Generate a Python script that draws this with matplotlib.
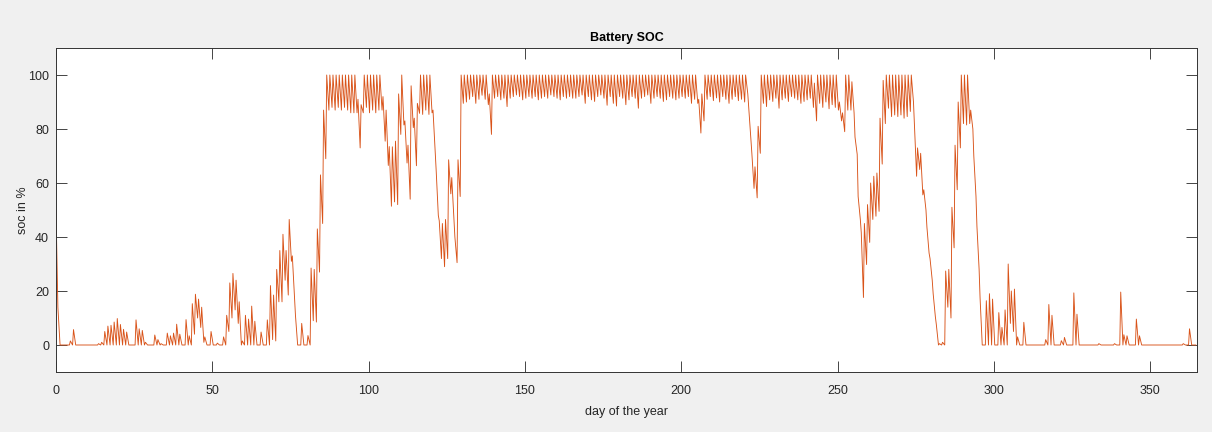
import numpy as np
import matplotlib
matplotlib.use("Agg")
import matplotlib.pyplot as plt

plt.rcParams['font.family'] = ['Liberation Sans', 'DejaVu Sans']

soc_start = 50

# SOC in the morning (daily low) for each day 0..364
soc_morning = [
    32, 0, 0, 0, 0, 0, 0, 0, 0, 0,
    0, 0, 0, 0, 0, 0, 0, 0, 0, 0,
    0, 0, 0, 0, 0, 0, 0, 0, 0, 0,
    0, 0, 0, 0, 0, 0, 0, 0, 0, 0,
    0, 0, 0, 0, 4, 10, 6.5, 1, 0, 0,
    0, 0, 0, 0, 0, 5, 10, 13, 8, 0,
    0, 0, 0, 0, 0, 0, 0, 0, 0, 2,
    1.5, 16, 16, 24, 18.5, 31, 18, 0, 0, 0,
    0, 0, 9, 8.5, 27, 45, 69, 87, 88, 87,
    88, 87, 88, 87, 86, 86, 86, 73, 86, 88,
    86, 87, 86, 87, 87, 75.5, 66.5, 51.4, 53, 52,
    78, 81.5, 67.4, 54, 80.5, 66.4, 85.8, 85.4, 87, 85.4,
    86, 72, 48, 32, 29, 32, 56, 46.5, 30.5, 55,
    89.5, 90, 91, 92, 89.5, 91, 92.5, 91, 89, 78,
    91.4, 92, 90.8, 91.4, 88.3, 91.4, 92, 92.6, 92, 90.8,
    91.4, 92, 91.4, 92, 90.8, 91.4, 92, 91.4, 92.6, 92,
    91.4, 90.8, 92, 91.4, 92, 91.4, 91.4, 92, 92.6, 89.5,
    92, 90.8, 90.2, 92, 92.6, 91.4, 88.8, 92, 89.5, 88.5,
    92, 91.4, 89, 90.8, 92, 91.4, 87.7, 91.4, 92, 92.6,
    89.5, 91.4, 92, 91.4, 90.2, 90.8, 92, 91.4, 90.8, 91.4,
    92, 91.4, 92, 89.5, 91, 89.5, 78.5, 83, 91, 92,
    90.5, 91.5, 90, 92, 91, 89.5, 91, 92, 90.5, 91,
    90, 93, 76, 58, 54.5, 71, 89.5, 88.3, 90.8, 90.2,
    91.4, 87.7, 90.8, 91.4, 90.2, 92, 91.4, 90.8, 89.5, 90.2,
    90.8, 91.4, 88, 83, 89.5, 88, 90, 87.5, 89, 88,
    87, 83, 79, 87, 87, 86, 70.6, 46.5, 17.6, 29.8,
    38, 46.5, 47.7, 49.5, 67, 82, 87.7, 84.6, 85.2, 84.6,
    85.2, 84, 84.6, 86.5, 90, 62.5, 65, 55.6, 50, 34,
    24, 10.5, 0, 0, 0, 14, 10, 36, 57.5, 73,
    82, 81.5, 82, 80, 55, 28, 0, 0, 0, 0,
    0, 0, 0, 0, 0, 8, 5, 0, 0, 0,
    0, 0, 0, 0, 0, 0, 0, 0, 0, 0,
    0, 0, 0, 0, 0, 0, 0, 0, 0, 0,
    0, 0, 0, 0, 0, 0, 0, 0, 0, 0,
    0, 0, 0, 0, 0, 0, 0, 0, 0, 0,
    0, 0, 0, 0, 0, 0, 0, 0, 0, 0,
    0, 0, 0, 0, 0,
]

# SOC in the afternoon (daily high) for each day 0..364
soc_afternoon = [
    14, 0, 0, 0, 1.5, 5.7, 0, 0, 0, 0,
    0, 0, 0, 0.5, 1, 5, 7, 7.3, 8.5, 9.8,
    7.6, 5.8, 4.8, 0, 0, 9.3, 6, 5.4, 1, 0,
    0, 3.7, 2, 0.5, 0, 4.4, 3.4, 4.4, 7.7, 4,
    0, 9.4, 3.4, 15.3, 18.8, 17, 14, 3, 0, 5,
    0, 0.7, 0, 3, 11, 23, 26.5, 24, 16, 1.5,
    11, 9.6, 14.4, 8.8, 0, 4.8, 0, 9.3, 22, 18.5,
    28, 35, 41, 35, 46.5, 33, 11, 0, 8, 0,
    3.5, 28.5, 28, 43, 63, 87, 100, 100, 100, 100,
    100, 100, 100, 100, 100, 100, 91, 89, 100, 100,
    100, 100, 100, 100, 92, 87, 73.5, 73.4, 75.5, 93,
    100, 83, 74, 96, 84, 89.5, 100, 100, 100, 100,
    87, 65, 46, 45, 46.5, 68.6, 62, 40, 68.6, 100,
    100, 100, 100, 100, 100, 100, 100, 100, 93, 100,
    100, 100, 100, 100, 100, 100, 100, 100, 100, 100,
    100, 100, 100, 100, 100, 100, 100, 100, 100, 100,
    100, 100, 100, 100, 100, 100, 100, 100, 100, 100,
    100, 100, 100, 100, 100, 100, 100, 100, 100, 100,
    100, 100, 100, 100, 100, 100, 100, 100, 100, 100,
    100, 100, 100, 100, 100, 100, 100, 100, 100, 100,
    100, 100, 100, 100, 100, 91, 93, 100, 100, 100,
    100, 100, 100, 100, 100, 100, 100, 100, 100, 100,
    100, 88, 71, 66, 81, 100, 100, 100, 100, 100,
    100, 100, 100, 100, 100, 100, 100, 100, 100, 100,
    100, 100, 97, 100, 100, 100, 100, 100, 100, 100,
    90, 86, 100, 100, 97.5, 77, 55, 41.6, 45, 52,
    60, 62.5, 63.7, 84, 98, 100, 100, 100, 100, 100,
    100, 100, 100, 100, 81.5, 73, 71, 57.5, 43.7, 32,
    19, 7.7, 0.5, 1, 27.4, 28, 51, 74, 90, 100,
    100, 100, 87, 70, 44, 17.6, 0, 16.4, 19, 17,
    0, 12, 6.5, 13, 30, 20, 20.7, 3, 0, 8.4,
    0, 0, 0, 0, 0, 0, 2, 15, 11, 0,
    0, 1.6, 2.8, 0, 0, 19.3, 11.4, 0, 0, 0,
    0, 0, 0, 0.5, 0, 0, 0, 0, 0.5, 0,
    19.6, 3.8, 3.4, 0, 0, 9.6, 3.4, 0, 0, 0,
    0, 0, 0, 0, 0, 0, 0, 0, 0, 0,
    0.5, 0, 6, 0, 0,
]

x_ticks = [0, 50, 100, 150, 200, 250, 300, 350]
y_ticks = [0, 20, 40, 60, 80, 100]

days = np.arange(len(soc_morning))
x = np.concatenate([[0.0], np.column_stack([days + 0.3, days + 0.6]).ravel()])
y = np.concatenate([[soc_start], np.column_stack([soc_morning, soc_afternoon]).ravel()])

fig = plt.figure(figsize=(12.12, 4.32), dpi=100, facecolor='#F0F0F0')
ax = fig.add_axes([56/1212, 60/432, (1197-56)/1212, (372-48)/432])
ax.set_facecolor('white')
ax.plot(x, y, color='#D95319', lw=0.65)

ax.set_xlim(0, 365)
ax.set_ylim(-10, 110)
ax.set_xticks(x_ticks)
ax.set_yticks(y_ticks)
ax.tick_params(direction='in', length=8, width=0.6, top=True, right=True,
               labelsize=9, colors='#262626')
ax.tick_params(axis='x', pad=9)
ax.tick_params(axis='y', pad=5)
for s in ax.spines.values():
    s.set_color('#333333')
    s.set_linewidth(0.7)

ax.set_title('Battery SOC', fontsize=9, fontweight='bold', color='#000000', pad=5)
ax.set_xlabel('day of the year', fontsize=9, color='#262626', labelpad=7)
ax.set_ylabel('soc in %', fontsize=9, color='#262626', labelpad=-1)

fig.savefig('out.png', dpi=100, facecolor=fig.get_facecolor())
